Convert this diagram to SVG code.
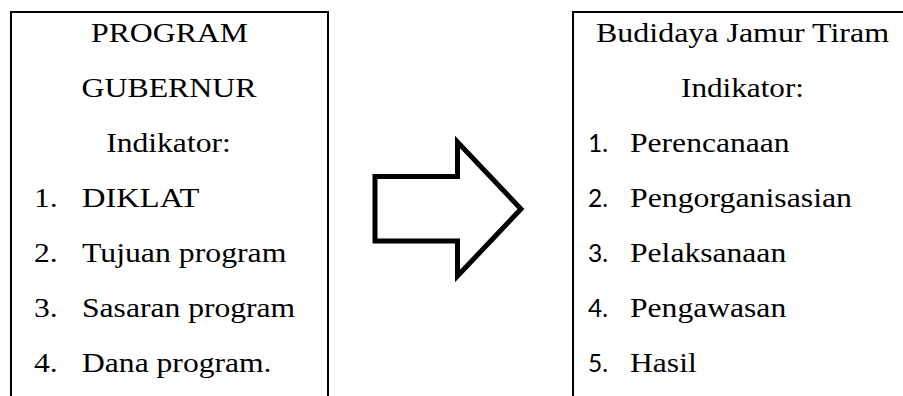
<svg xmlns="http://www.w3.org/2000/svg" width="903" height="396" viewBox="0 0 903 396">
  <!-- left box: governor programme -->
  <g id="program-gubernur" font-family="Liberation Serif" font-size="27" fill="#000">
    <path d="M11,396 V12 H328 V396" fill="none" stroke="#000" stroke-width="2"/>
    <text x="169.5" y="41.7" text-anchor="middle" textLength="157" lengthAdjust="spacingAndGlyphs">PROGRAM</text>
    <text x="169" y="96.7" text-anchor="middle" textLength="175" lengthAdjust="spacingAndGlyphs">GUBERNUR</text>
    <text x="168.5" y="151.7" text-anchor="middle" textLength="124.6" lengthAdjust="spacingAndGlyphs">Indikator:</text>
    <text x="34" y="207" textLength="23.7" lengthAdjust="spacingAndGlyphs">1.</text>
    <text x="82" y="207" textLength="117.5" lengthAdjust="spacingAndGlyphs">DIKLAT</text>
    <text x="34" y="262" textLength="23.7" lengthAdjust="spacingAndGlyphs">2.</text>
    <text x="82" y="262" textLength="204.4" lengthAdjust="spacingAndGlyphs">Tujuan program</text>
    <text x="34" y="317" textLength="23.7" lengthAdjust="spacingAndGlyphs">3.</text>
    <text x="82" y="317" textLength="213.2" lengthAdjust="spacingAndGlyphs">Sasaran program</text>
    <text x="34" y="372" textLength="23.7" lengthAdjust="spacingAndGlyphs">4.</text>
    <text x="82" y="372" textLength="189.5" lengthAdjust="spacingAndGlyphs">Dana program.</text>
  </g>

  <!-- connector: block arrow -->
  <g id="connectors">
    <polygon points="375,176.5 457.5,176.5 457.5,142 521,209 457.5,276 457.5,241 375,241" fill="#fff" stroke="#000" stroke-width="5" stroke-miterlimit="10"/>
  </g>

  <!-- right box: oyster mushroom cultivation -->
  <g id="budidaya-jamur-tiram" font-family="Liberation Serif" font-size="27" fill="#000">
    <path d="M573,396 V12 H903" fill="none" stroke="#000" stroke-width="2"/>
    <text x="742.5" y="41.7" text-anchor="middle" textLength="293" lengthAdjust="spacingAndGlyphs">Budidaya Jamur Tiram</text>
    <text x="742.5" y="96.7" text-anchor="middle" textLength="123" lengthAdjust="spacingAndGlyphs">Indikator:</text>
    <g font-family="Lato" font-size="24.5">
      <text x="588" y="151.7">1.</text>
      <text x="588" y="206.7">2.</text>
      <text x="588" y="261.7">3.</text>
      <text x="588" y="316.7">4.</text>
      <text x="588" y="371.7">5.</text>
    </g>
    <text x="630" y="151.7" textLength="159.6" lengthAdjust="spacingAndGlyphs">Perencanaan</text>
    <text x="630" y="206.7" textLength="222" lengthAdjust="spacingAndGlyphs">Pengorganisasian</text>
    <text x="630" y="261.7" textLength="156.2" lengthAdjust="spacingAndGlyphs">Pelaksanaan</text>
    <text x="630" y="316.7" textLength="156.2" lengthAdjust="spacingAndGlyphs">Pengawasan</text>
    <text x="630" y="371.7" textLength="66.7" lengthAdjust="spacingAndGlyphs">Hasil</text>
  </g>
</svg>
